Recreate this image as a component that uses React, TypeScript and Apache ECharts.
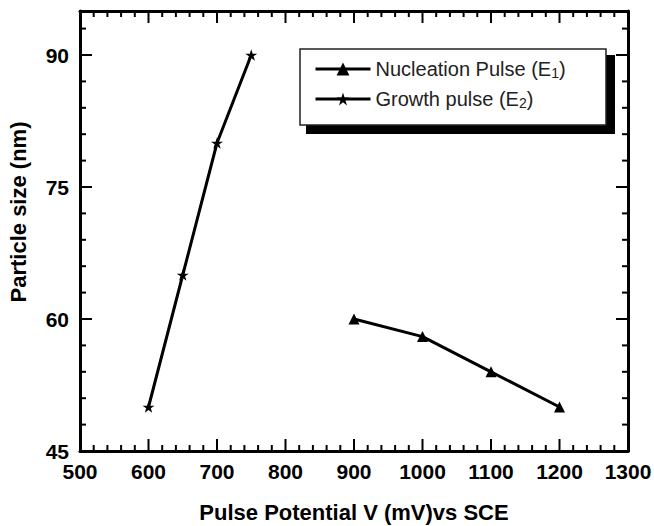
import React, { useEffect, useRef } from "react";
import * as echarts from "echarts";

const nucleationX = [900, 1000, 1100, 1200];
const nucleationY = [60, 58, 54, 50];
const growthX = [600, 650, 700, 750];
const growthY = [50, 65, 80, 90];
const seriesNames = ["Nucleation Pulse (E1)", "Growth pulse (E2)"];
const xTitle = "Pulse Potential V (mV)vs SCE";
const yTitle = "Particle size (nm)";
const xRange = [500, 1300];
const xStep = 100;
const xMajorTicks = [500, 600, 700, 800, 900, 1000, 1100, 1200, 1300];
const xMinorPerMajor = 5;
const yRange = [45, 95];
const yStep = 15;
const yMajorTicks = [45, 60, 75, 90];
const yMinorTicks = [48, 51, 54, 57, 63, 66, 69, 72, 78, 81, 84, 87, 93];

const FONT = "'Liberation Sans', Arial, Helvetica, sans-serif";
const STAR =
  "path://M50,0 L61.2,34.5 L97.6,34.5 L68.2,55.9 L79.4,90.5 L50,69.1 L20.6,90.5 L31.8,55.9 L2.4,34.5 L38.8,34.5 Z";

const GRID = { left: 80, right: 26, top: 11, bottom: 75 };
const W = 654;
const H = 526;
const MAJOR_LEN = 12;
const MINOR_LEN = 6;
const TICK_W = 2;

const frameLine = () => ({ show: true, onZero: false, lineStyle: { color: "#000", width: 3 } });
const labelStyle = () => ({ color: "#000", fontSize: 21, fontWeight: "bold", fontFamily: FONT });
const titleStyle = () => ({ color: "#000", fontSize: 22, fontWeight: "bold", fontFamily: FONT });

function xTickList(): [number, number][] {
  const out: [number, number][] = [];
  xMajorTicks.forEach((v, i) => {
    out.push([v, MAJOR_LEN]);
    const next = xMajorTicks[i + 1];
    if (next !== undefined) {
      for (let k = 1; k < xMinorPerMajor; k++) out.push([v + ((next - v) * k) / xMinorPerMajor, MINOR_LEN]);
    }
  });
  return out;
}
function yTickList(): [number, number][] {
  return [
    ...yMajorTicks.map((v) => [v, MAJOR_LEN] as [number, number]),
    ...yMinorTicks.map((v) => [v, MINOR_LEN] as [number, number]),
  ];
}

const legendBox = () => [
  { type: "rect", z: 1, shape: { x: 306, y: 55, width: 309, height: 79 }, style: { fill: "#000" } },
  {
    type: "rect",
    z: 2,
    shape: { x: 300, y: 49, width: 306, height: 76 },
    style: { fill: "#fff", stroke: "#222", lineWidth: 1.5 },
  },
];

export default function App() {
  const ref = useRef<HTMLDivElement>(null);
  useEffect(() => {
    if (!ref.current) return;
    const chart = echarts.init(ref.current, undefined, { renderer: "svg" });
    const option: any = {
      animation: false,
      backgroundColor: "#fff",
      grid: { ...GRID, containLabel: false, outerBoundsMode: "none" },
      xAxis: [
        {
          type: "value",
          min: xRange[0],
          max: xRange[1],
          interval: xStep,
          splitLine: { show: false },
          position: "bottom",
          axisLine: frameLine(),
          axisTick: { show: false },
          axisLabel: { ...labelStyle(), margin: 10, formatter: (v: number) => String(v) },
          name: xTitle,
          nameLocation: "middle",
          nameGap: 50,
          nameTextStyle: titleStyle(),
        },
        {
          type: "value",
          min: xRange[0],
          max: xRange[1],
          interval: xStep,
          splitLine: { show: false },
          position: "top",
          axisLine: frameLine(),
          axisTick: { show: false },
          axisLabel: { show: false },
        },
      ],
      yAxis: [
        {
          type: "value",
          min: yRange[0],
          max: yRange[1],
          interval: yStep,
          splitLine: { show: false },
          position: "left",
          axisLine: frameLine(),
          axisTick: { show: false },
          axisLabel: {
            ...labelStyle(),
            margin: 11,
            formatter: (v: number) => (v % yStep === 0 ? String(v) : ""),
          },
          name: yTitle,
          nameLocation: "middle",
          nameGap: 51,
          nameTextStyle: { ...titleStyle(), padding: [0, 0, 0, 38] },
        },
        {
          type: "value",
          min: yRange[0],
          max: yRange[1],
          interval: yStep,
          splitLine: { show: false },
          position: "right",
          axisLine: frameLine(),
          axisTick: { show: false },
          axisLabel: { show: false },
        },
      ],
      legend: {
        data: seriesNames,
        orient: "vertical",
        left: 314,
        top: 59,
        padding: 0,
        itemWidth: 55,
        itemHeight: 16,
        itemGap: 9,
        itemTextGap: 5,
        selectedMode: false,
        z: 10,
        lineStyle: { width: 3 },
        formatter: (name: string) => {
          const m = name.match(/^(.*)\(E(\d)\)$/);
          if (!m) return `{a|${name}}`;
          return `{a|${m[1]}(E}{s|${m[2]}}{a|)}`;
        },
        textStyle: {
          color: "#222",
          fontFamily: FONT,
          fontSize: 20,
          rich: {
            a: { color: "#222", fontFamily: FONT, fontSize: 20, lineHeight: 22 },
            s: { color: "#222", fontFamily: FONT, fontSize: 14, lineHeight: 1, verticalAlign: "bottom" },
          },
        },
      },
      graphic: legendBox(),
      series: [
        {
          name: seriesNames[0],
          type: "line",
          xAxisIndex: 0,
          yAxisIndex: 0,
          data: nucleationX.map((x, i) => [x, nucleationY[i]]),
          symbol: "triangle",
          symbolSize: 11,
          lineStyle: { color: "#000", width: 3 },
          itemStyle: { color: "#000" },
        },
        {
          name: seriesNames[1],
          type: "line",
          xAxisIndex: 0,
          yAxisIndex: 0,
          data: growthX.map((x, i) => [x, growthY[i]]),
          symbol: STAR,
          symbolKeepAspect: true,
          symbolSize: 12,
          lineStyle: { color: "#000", width: 3 },
          itemStyle: { color: "#000" },
        },
      ],
    };
    chart.setOption(option);

    // Tick marks placed through the chart's own scales (convertToPixel on series 0's grid).
    try {
      const toPx = (x: number, y: number): number[] => {
        const r = chart.convertToPixel({ seriesIndex: 0 }, [x, y]) as any;
        return Array.isArray(r) ? r : [NaN, NaN];
      };
      const [left, bottom] = toPx(xRange[0], yRange[0]);
      const [right, top] = toPx(xRange[1], yRange[1]);
      if ([left, bottom, right, top].every((n) => Number.isFinite(n))) {
        const ticks: any[] = [];
        xTickList().forEach(([v, len]) => {
          const px = toPx(v, yRange[0])[0];
          ticks.push({ type: "rect", z: 3, shape: { x: px - TICK_W / 2, y: bottom - len, width: TICK_W, height: len }, style: { fill: "#000" } });
          ticks.push({ type: "rect", z: 3, shape: { x: px - TICK_W / 2, y: top, width: TICK_W, height: len }, style: { fill: "#000" } });
        });
        yTickList().forEach(([v, len]) => {
          const py = toPx(xRange[0], v)[1];
          ticks.push({ type: "rect", z: 3, shape: { x: left, y: py - TICK_W / 2, width: len, height: TICK_W }, style: { fill: "#000" } });
          ticks.push({ type: "rect", z: 3, shape: { x: right - len, y: py - TICK_W / 2, width: len, height: TICK_W }, style: { fill: "#000" } });
        });
        chart.setOption({ graphic: [...legendBox(), ...ticks] });
      }
    } catch (e) {
      // keep the chart without extra tick marks
    }
    return () => chart.dispose();
  }, []);
  return (
    <div
      ref={ref}
      style={{ position: "absolute", left: 0, top: 0, width: W, height: H, background: "#fff" }}
    />
  );
}
